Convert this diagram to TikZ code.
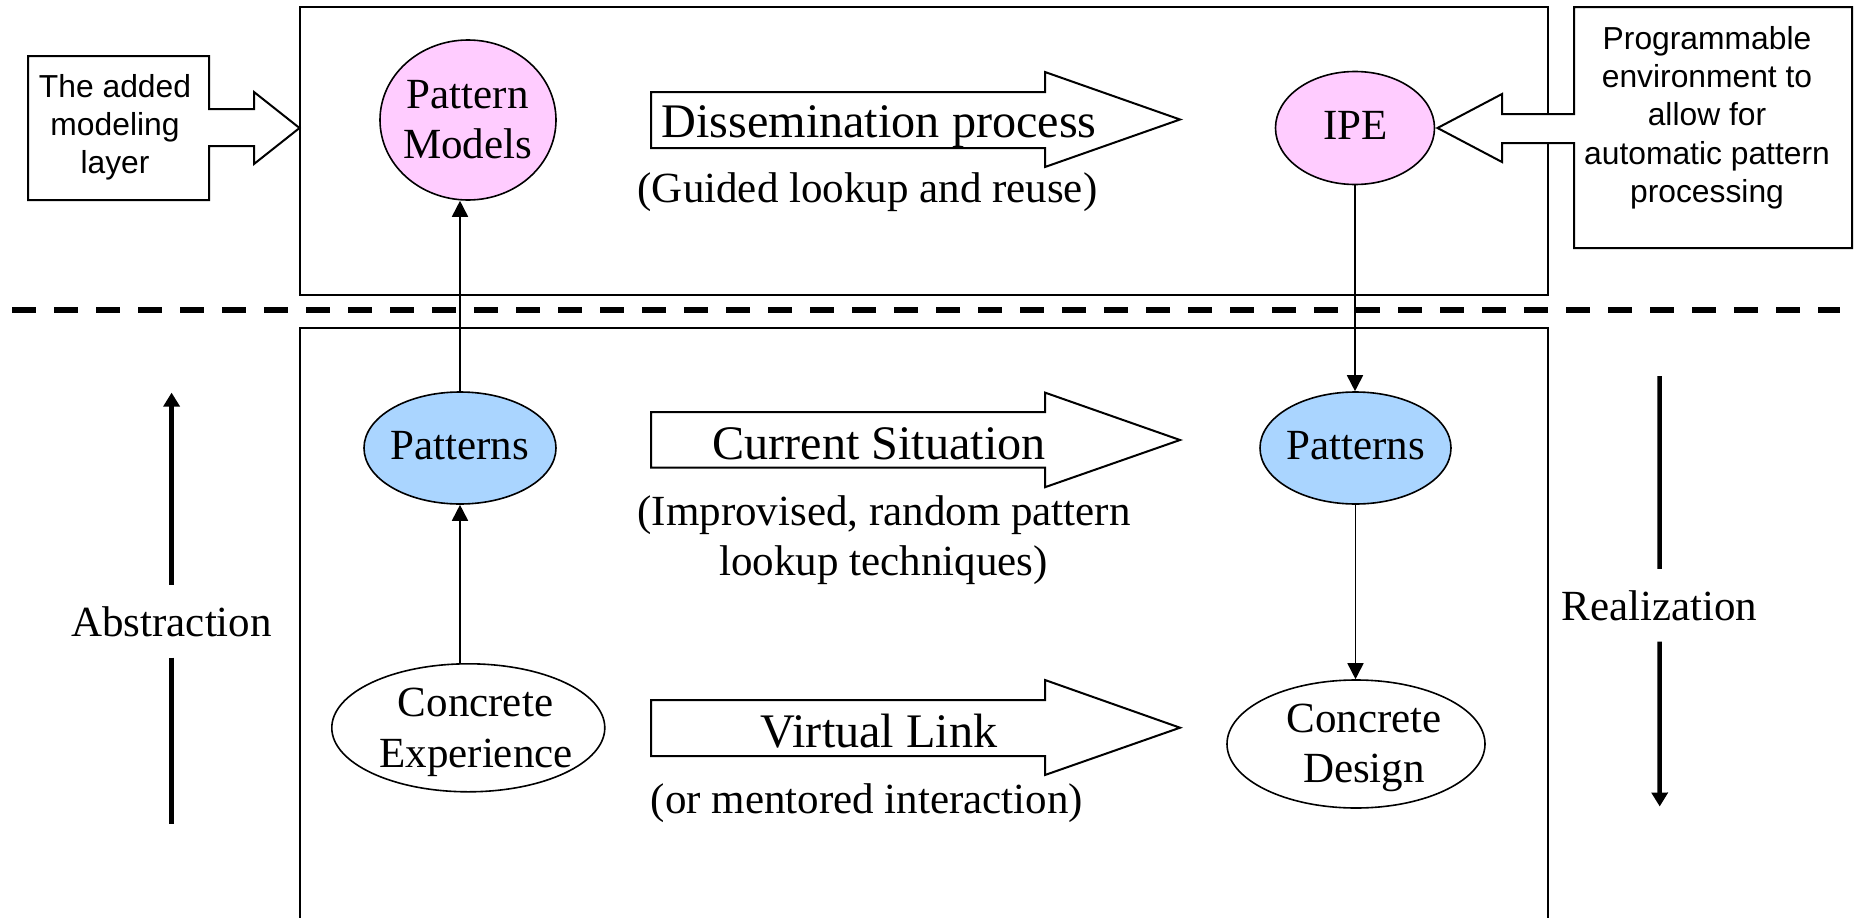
\documentclass[tikz,border=0pt]{standalone}
\usepackage{fontspec}
\setmainfont{Liberation Serif}
\newfontfamily\arialfont{Liberation Sans}
\usetikzlibrary{arrows.meta,shapes.geometric}
\definecolor{pinkfill}{RGB}{255,204,255}
\definecolor{bluefill}{RGB}{170,213,255}
\begin{document}
\begin{tikzpicture}[x=1pt,y=-1pt,
  frame/.style={draw, line width=2pt},
  callout/.style={draw, line width=2pt, fill=white, line join=miter},
  bigarrow/.style={draw, line width=2pt, fill=white, line join=miter},
  ell/.style={draw, ellipse, line width=1.6pt, inner sep=0pt},
  conn/.style={line width=1.7pt, -{Triangle[length=16pt,width=16pt]}},
  thickline/.style={line width=4.5pt},
  thickarrow/.style={line width=4.5pt, -{Triangle[length=14pt,width=16pt]}},
  bigtxt/.style={font=\fontsize{48.2}{57}\selectfont, inner sep=0pt, anchor=base},
  txt/.style={font=\fontsize{43}{51}\selectfont, inner sep=0pt, anchor=base},
  sanstxt/.style={font=\arialfont\fontsize{31.8}{38}\selectfont, inner sep=0pt, anchor=base}
]
\useasboundingbox (0,0) rectangle (1856,918);
\fill[white] (0,0) rectangle (1856,918);

% layer frames
\draw[frame] (300,7) rectangle (1548,295);
\draw[frame] (300,925) -- (300,328) -- (1548,328) -- (1548,925);

% separator
\draw[line width=6pt, dash pattern=on 24pt off 18pt] (12,310) -- (1840,310);

% callouts
\path[callout] (28,56) -- (209,56) -- (209,109) -- (254,109) -- (254,92) -- (299.5,128)
  -- (254,164) -- (254,146) -- (209,146) -- (209,200) -- (28,200) -- cycle;
\node[sanstxt] (la1) at (115,97) {The added};
\node[sanstxt] (la2) at (115,135) {modeling};
\node[sanstxt] (la3) at (115,173.5) {layer};

\path[callout] (1574,7) -- (1852,7) -- (1852,248) -- (1574,248) -- (1574,143) -- (1502,143)
  -- (1502,162) -- (1437.5,128) -- (1502,94) -- (1502,114) -- (1574,114) -- cycle;
\node[sanstxt] (ra1) at (1707,49.5) {Programmable};
\node[sanstxt] (ra2) at (1707,87.7) {environment to};
\node[sanstxt] (ra3) at (1707,125.9) {allow for};
\node[sanstxt] (ra4) at (1707,164.1) {automatic pattern};
\node[sanstxt] (ra5) at (1707,202.3) {processing};

% big arrows
\path[bigarrow] (651,92) -- (1045,92) -- (1045,72) -- (1180,119.5) -- (1045,167) -- (1045,148) -- (651,148) -- cycle;
\path[bigarrow] (651,412) -- (1045,412) -- (1045,392.6) -- (1180,440) -- (1045,487.2) -- (1045,467.5) -- (651,467.5) -- cycle;
\path[bigarrow] (651,700) -- (1045,700) -- (1045,680) -- (1180,727.7) -- (1045,775) -- (1045,756) -- (651,756) -- cycle;
\node[bigtxt] (diss) at (879,137.5) {Dissemination process};
\node[txt] (dissub) at (867.5,202.5) {(Guided lookup and reuse)};
\node[bigtxt] (cur) at (879,459) {Current Situation};
\node[txt] (cursub1) at (884,525.5) {(Improvised, random pattern};
\node[txt] (cursub2) at (883.5,575) {lookup techniques)};
\node[bigtxt] (vl) at (879,747) {Virtual Link};
\node[txt] (vlsub) at (867,813) {(or mentored interaction)};

% ellipses
\node[ell, fill=pinkfill, minimum width=176pt, minimum height=160pt] (pm) at (468,120) {};
\node[ell, fill=pinkfill, minimum width=159pt, minimum height=113pt] (ipe) at (1355,128) {};
\node[ell, fill=bluefill, minimum width=192pt, minimum height=112pt] (pl) at (460,448) {};
\node[ell, fill=bluefill, minimum width=191pt, minimum height=112pt] (pr) at (1355.5,448) {};
\node[ell, fill=white, minimum width=273pt, minimum height=128pt] (ce) at (468.3,727.8) {};
\node[ell, fill=white, minimum width=258pt, minimum height=128pt] (cd) at (1356,744) {};

\node[txt] (pmt1) at (467.6,108) {Pattern};
\node[txt] (pmt2) at (467.6,158.7) {Models};
\node[txt] (ipet) at (1355.7,139.5) {IPE};
\node[txt] (plt) at (459.7,459) {Patterns};
\node[txt] (prt) at (1355.7,459) {Patterns};
\node[txt] (cet1) at (475.5,716) {Concrete};
\node[txt] (cet2) at (476,767) {Experience};
\node[txt] (cdt1) at (1364,732) {Concrete};
\node[txt] (cdt2) at (1364,782) {Design};

% connectors
\draw[conn] (pl.north) -- (pl.north |- pm.south);
\draw[conn] (pl.south |- ce.north) -- (pl.south);
\draw[conn] (ipe.south) -- (ipe.south |- pr.north);
\draw[conn] (pr.south) -- (pr.south |- cd.north);

% abstraction / realization
\coordinate (abstop) at (171.6,392.6);
\coordinate (absbot) at (171.6,824.2);
\node[txt, inner ysep=21pt] (abs) at (171.6,636) {Abstraction};
\draw[thickarrow] (abs.north) -- (abstop);
\draw[thickline] (abs.south) -- (absbot);

\coordinate (realtop) at (1659.7,376);
\coordinate (realbot) at (1659.7,806.5);
\node[txt, inner ysep=21pt] (real) at (1659.5,620) {Realization};
\draw[thickline] (realtop) -- (real.north);
\draw[thickarrow] (real.south) -- (realbot);
\end{tikzpicture}
\end{document}
